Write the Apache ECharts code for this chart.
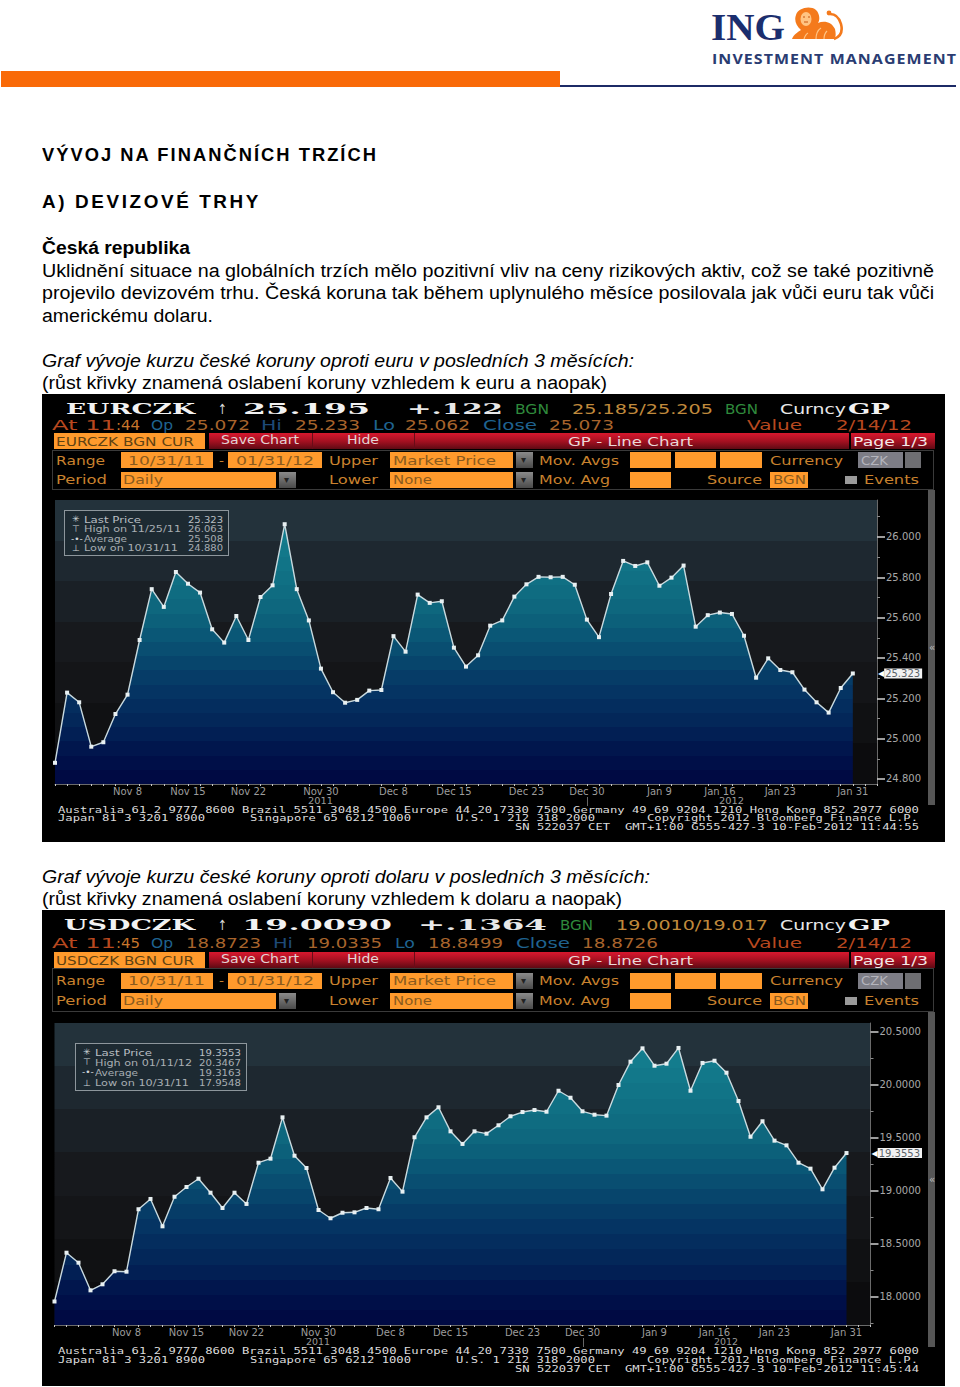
<!DOCTYPE html>
<html lang="cs">
<head>
<meta charset="utf-8">
<title>Vývoj na finančních trzích</title>
<script src="https://cdn.jsdelivr.net/npm/echarts@6/dist/echarts.min.js"></script>
<style>
html,body{margin:0;padding:0;background:#fff;width:960px;height:1387px;overflow:hidden}
#page{position:absolute;left:0;top:0;width:960px;height:1387px;overflow:hidden}
#under,#over{position:absolute;left:0;top:0;width:960px;height:1387px}
#under{z-index:0}#over{z-index:2}
#chart{position:absolute;left:0;top:0;width:960px;height:1387px;z-index:1}
.t{position:absolute;white-space:pre;transform-origin:0 50%;line-height:1}
.b{position:absolute}
</style>
</head>
<body>
<div id="page">
<div id="under"></div>
<div id="chart"></div>
<div id="over"></div>
</div>
<script>
// ---------- data ----------
var categories = ['Oct 31','Nov 1','Nov 2','Nov 3','Nov 4','Nov 7','Nov 8','Nov 9','Nov 10','Nov 11','Nov 14','Nov 15','Nov 16','Nov 17','Nov 18','Nov 21','Nov 22','Nov 23','Nov 24','Nov 25','Nov 28','Nov 29','Nov 30','Dec 1','Dec 2','Dec 5','Dec 6','Dec 7','Dec 8','Dec 9','Dec 12','Dec 13','Dec 14','Dec 15','Dec 16','Dec 19','Dec 20','Dec 21','Dec 22','Dec 23','Dec 26','Dec 27','Dec 28','Dec 29','Dec 30','Jan 2','Jan 3','Jan 4','Jan 5','Jan 6','Jan 9','Jan 10','Jan 11','Jan 12','Jan 13','Jan 16','Jan 17','Jan 18','Jan 19','Jan 20','Jan 23','Jan 24','Jan 25','Jan 26','Jan 27','Jan 30','Jan 31'];
var shownDates = ['Nov 8','Nov 15','Nov 22','Nov 30','Dec 8','Dec 15','Dec 23','Dec 30','Jan 9','Jan 16','Jan 23','Jan 31'];
var eurValues = [24.880,25.228,25.180,24.960,24.982,25.122,25.218,25.489,25.741,25.653,25.826,25.768,25.724,25.542,25.476,25.608,25.489,25.702,25.760,26.063,25.741,25.586,25.347,25.230,25.178,25.192,25.238,25.241,25.508,25.431,25.714,25.673,25.681,25.451,25.357,25.413,25.560,25.586,25.704,25.765,25.802,25.800,25.802,25.763,25.590,25.503,25.717,25.881,25.856,25.874,25.758,25.798,25.858,25.555,25.612,25.625,25.618,25.510,25.302,25.398,25.340,25.329,25.243,25.180,25.129,25.251,25.323];
var usdValues = [17.9548,18.415,18.321,18.060,18.117,18.240,18.236,18.825,18.922,18.664,18.943,19.035,19.113,18.981,18.837,18.981,18.875,19.264,19.302,19.692,19.330,19.214,18.818,18.740,18.792,18.796,18.837,18.825,19.120,18.991,19.504,19.692,19.787,19.560,19.441,19.560,19.538,19.617,19.702,19.742,19.761,19.745,19.943,19.877,19.749,19.717,19.708,19.997,20.217,20.343,20.179,20.198,20.3467,19.943,20.205,20.226,20.113,19.846,19.509,19.655,19.472,19.428,19.264,19.208,19.013,19.217,19.3553];
var eurTicks = [24.8,25.0,25.2,25.4,25.6,25.8,26.0];
var eurMinorTicks = [24.9,25.1,25.3,25.5,25.7,25.9,26.1];
var usdTicks = [18.0,18.5,19.0,19.5,20.0,20.5];
var usdMinorTicks = [17.75,18.25,18.75,19.25,19.75,20.25];
var eurLegend = [['Last Price','25.323'],['High on 11/25/11','26.063'],['Average','25.508'],['Low on 10/31/11','24.880']];
var usdLegend = [['Last Price','19.3553'],['High on 01/11/12','20.3467'],['Average','19.3163'],['Low on 10/31/11','17.9548']];

// ---------- page helpers ----------
var over = document.getElementById('over'), under = document.getElementById('under');
function box(x0,y0,x1,y1,bg,extra){
  var d=document.createElement('div');d.className='b';
  d.style.cssText='left:'+x0+'px;top:'+y0+'px;width:'+(x1-x0)+'px;height:'+(y1-y0)+'px;background:'+bg+';'+(extra||'');
  under.appendChild(d);return d;
}
function T(s,x0,x1,yc,o){
  o=o||{};
  var d=document.createElement('span');d.className='t';d.textContent=s;
  var size=o.size||13;
  d.style.fontFamily=o.font||'"DejaVu Sans",sans-serif';
  d.style.fontSize=size+'px';
  d.style.color=o.color||'#000';
  if(o.bold)d.style.fontWeight='bold';
  if(o.italic)d.style.fontStyle='italic';
  if(o.ls)d.style.letterSpacing=o.ls+'px';
  d.style.left=x0+'px';
  d.style.top=(yc-size/2)+'px';
  (o.parent||over).appendChild(d);
  if(x1!=null){var w=d.getBoundingClientRect().width;d.style.transform='scaleX('+((x1-x0)/w).toFixed(4)+')';}
  return d;
}

// ---------- letterhead ----------
box(1,71,560,87,'#f96a08');
box(560,85,956,87,'#1c2a66');
T('ING',711,785,27,{font:'"Liberation Serif",serif',bold:true,size:38,color:'#1b2e6e'});
T('INVESTMENT MANAGEMENT',712,957,58,{font:'"Open Sans",sans-serif',bold:true,size:15,ls:1,color:'#2a3c72'});
var ns='http://www.w3.org/2000/svg';
var lion=document.createElementNS(ns,'svg');
lion.setAttribute('width','54');lion.setAttribute('height','36');lion.setAttribute('viewBox','0 0 54 36');
lion.style.cssText='position:absolute;left:790px;top:6px';
lion.innerHTML='<path d="M2 33 C4 28 8 26 11 24 C6 20 4 14 6 9 C8 2 20 -1 26 4 C30 8 30 14 28 17 C34 14 42 16 45 23 C46 28 46 31 44 33 Z" fill="#f47a1c"/>'+
'<path d="M44 33 C50 31 53 26 51 18 C49 11 45 8 40 8" fill="none" stroke="#f47a1c" stroke-width="2.6"/>'+
'<circle cx="39" cy="7" r="2.4" fill="#f47a1c"/>'+
'<ellipse cx="16" cy="13" rx="5.5" ry="7" fill="#ffc483"/>'+
'<path d="M13 11h2M18 11h2M14 16h4" stroke="#c8540e" stroke-width="1"/>'+
'<path d="M26 33c0-5 2-9 5-11M34 33c0-4 1-6 3-8M14 33c1-3 2-5 4-6" stroke="#ffc483" stroke-width="1.2" fill="none"/>';
over.appendChild(lion);

// ---------- body text ----------
var bodyFont='"Liberation Sans",Arial,sans-serif';
T('VÝVOJ NA FINANČNÍCH TRZÍCH',42,378,155,{font:bodyFont,bold:true,size:18,ls:2});
T('A) DEVIZOVÉ TRHY',42,261,202,{font:bodyFont,bold:true,size:18,ls:2.5});
T('Česká republika',42,190,247.5,{font:bodyFont,bold:true,size:18});
T('Uklidnění situace na globálních trzích mělo pozitivní vliv na ceny rizikových aktiv, což se také pozitivně',42,934,270.5,{font:bodyFont,size:18});
T('projevilo devizovém trhu. Česká koruna tak během uplynulého měsíce posilovala jak vůči euru tak vůči',42,934,292.5,{font:bodyFont,size:18});
T('americkému dolaru.',42,213,315.5,{font:bodyFont,size:18});
T('Graf vývoje kurzu české koruny oproti euru v posledních 3 měsících:',42,634,360.5,{font:bodyFont,size:18,italic:true});
T('(růst křivky znamená oslabení koruny vzhledem k euru a naopak)',42,607,382.5,{font:bodyFont,size:18});
T('Graf vývoje kurzu české koruny oproti dolaru v posledních 3 měsících:',42,650,876.5,{font:bodyFont,size:18,italic:true});
T('(růst křivky znamená oslabení koruny vzhledem k dolaru a naopak)',42,622,898.5,{font:bodyFont,size:18});

// ---------- Bloomberg terminal panels ----------
var AMB='#c9822e',DIM='#a8642c',BLU='#1f6390',RED='#b8481f',GRN='#2f8a3c',BOX='#ff9a2c',BT='#8a5a1e',GR='#a5a5a5';
var red='linear-gradient(#d8182e,#a01020 55%,#5e0a14)';
function panel(c){
  box(42,c.top,945,c.bottom,'#000');
  var y=c.y,f1='"DejaVu Serif",serif';
  c.head.forEach(function(h){T(h[0],h[1],h[2],y.r1,{font:h[3]?f1:null,bold:!!h[3],size:14,color:h[4]});});
  c.info.forEach(function(h){T(h[0],h[1],h[2],y.r2,{size:14,color:h[3]});});
  // row 3
  box(54,y.b3,205,y.b3+16,BOX);
  T(c.sec,56,194,y.b3+8,{size:13,color:'#5f4212'});
  box(209,y.b3,849,y.b3+16,red);
  box(312,y.b3,313,y.b3+16,'#6a0c18');box(414,y.b3,415,y.b3+16,'#6a0c18');
  box(851,y.b3,935,y.b3+16,red);
  T('Save Chart',221,299,y.b3+7,{size:12,color:'#e4d4d4'});
  T('Hide',347,379,y.b3+7,{size:12,color:'#e4d4d4'});
  T('GP - Line Chart',568,693,y.b3+8,{size:13,color:'#ead8d8'});
  T('Page 1/3',853,928,y.b3+8,{size:13,color:'#f4e8e8'});
  // rows 4-5
  box(52,y.p0,934,y.p1,'transparent','box-sizing:border-box;border:1px solid #3a3a3a');
  var dd='linear-gradient(#8a8a8a,#4a4a4a)';
  function fld(x0,x1,yb){box(x0,yb,x1,yb+16,BOX);}
  function arrow(x,yb){box(x,yb,x+17,yb+16,dd);T('▾',x+5,null,yb+8,{size:10,color:'#222'});}
  var a=y.r4,b=y.r5,ab=a-8,bb=b-8;
  T('Range',56,105,a,{color:AMB});fld(121,213,ab);T('10/31/11',128,205,a,{color:BT});
  T('-',219,224,a,{color:AMB});fld(228,322,ab);T('01/31/12',236,314,a,{color:BT});
  T('Upper',329,378,a,{color:AMB});fld(390,513,ab);T('Market Price',393,496,a,{color:BT});arrow(516,ab);
  T('Mov. Avgs',539,619,a,{color:AMB});fld(630,671,ab);fld(675,716,ab);fld(720,762,ab);
  T('Currency',770,843,a,{color:AMB});box(858,ab,903,ab+16,'#7d7d86');T('CZK',861,888,a,{color:'#b4b4bc'});box(905,ab,921,ab+16,'#6e6e72');
  T('Period',56,107,b,{color:AMB});fld(121,276,bb);T('Daily',123,163,b,{color:BT});arrow(279,bb);
  T('Lower',329,378,b,{color:AMB});fld(390,513,bb);T('None',393,432,b,{color:BT});arrow(516,bb);
  T('Mov. Avg',539,610,b,{color:AMB});fld(630,671,bb);
  T('Source',707,762,b,{color:AMB});fld(770,808,bb);T('BGN',773,806,b,{color:BT});
  box(845,b-4,857,b+4,'#9a9a9a');T('Events',864,919,b,{color:AMB});
  // scrollbar
  box(928,y.p1,935,c.sb,'#565656');
  T('«',929,null,c.chev,{size:10,color:'#bbb'});
  // legend
  var l=c.leg;
  var lg=box(l.x0,l.y0,l.x1,l.y1,'#1d2a32','box-sizing:border-box;border:1px solid #8d969c');
  over.appendChild(lg);
  var syms=['✳','⊤','-•-','⊥'];
  c.legend.forEach(function(r,i){
    var ry=l.rows[i],col=i==0?'#b9bfc3':'#a8aeb2';
    T(syms[i],l.x0+(i==2?7:8),null,ry,{size:9,color:'#cfd5d8'});
    T(r[0],l.tx,l.tx+l.w[i],ry,{size:9.5,color:col});
    T(r[1],l.vx,l.x1-6,ry,{size:9.5,color:col});
  });
  // axis-side captions and footer
  var m='"DejaVu Sans Mono",monospace',fc='#dcdcdc';
  T(c.y2011[0],c.y2011[1],c.y2011[2],y.yr,{size:8.5,color:'#9a9a9a'});
  T(c.y2012[0],c.y2012[1],c.y2012[2],y.yr,{size:8.5,color:'#9a9a9a'});
  box(c.div,y.yr-4,c.div+1,y.yr+5,'#666');
  T('Australia 61 2 9777 8600 Brazil 5511 3048 4500 Europe 44 20 7330 7500 Germany 49 69 9204 1210 Hong Kong 852 2977 6000',58,919,y.f1,{font:m,size:9.5,color:fc});
  T('Japan 81 3 3201 8900',58,205,y.f2,{font:m,size:9.5,color:fc});
  T('Singapore 65 6212 1000',250,411,y.f2,{font:m,size:9.5,color:fc});
  T('U.S. 1 212 318 2000',456,595,y.f2,{font:m,size:9.5,color:fc});
  T('Copyright 2012 Bloomberg Finance L.P.',647,918,y.f2,{font:m,size:9.5,color:fc});
  T('SN 522037 CET',515,610,y.f3,{font:m,size:9.5,color:fc});
  T(c.stamp,625,919,y.f3,{font:m,size:9.5,color:fc});
}
panel({top:394,bottom:842,sb:805,chev:648,sec:'EURCZK BGN CUR',
  y:{r1:409,r2:425,b3:433,r4:460,r5:479.5,p0:450,p1:490,yr:801.2,f1:809.3,f2:818,f3:826.5},
  head:[['EURCZK',66,195,1,'#f2f2f2'],['↑',218,227,0,'#d8d8d8'],['25.195',243,370,1,'#f2f2f2'],['+.122',407,503,1,'#e8e8e8'],['BGN',515,549,0,GRN],['25.185/25.205',572,713,0,'#c08a3c'],['BGN',725,758,0,GRN],['Curncy',780,846,0,'#e8e8e8'],['GP',848,890,1,'#f2f2f2']],
  info:[['At 11',52,116,RED],[':44',116,140,'#c8762c'],['Op',151,173,BLU],['25.072',185,250,DIM],['Hi',261,282,'#1e4a78'],['25.233',295,360,DIM],['Lo',373,395,BLU],['25.062',405,470,DIM],['Close',483,537,BLU],['25.073',549,614,DIM],['Value',747,802,RED],['2/14/12',836,912,RED]],
  leg:{x0:64,y0:510,x1:229,y1:556,tx:84,vx:188,rows:[519.5,529,539,548],w:[57,97,43,94]},legend:eurLegend,
  y2011:['2011',308,333],y2012:['2012',719,744],div:587,stamp:'GMT+1:00 G555-427-3 10-Feb-2012 11:44:55'});
panel({top:910,bottom:1386,sb:1347,chev:1180,sec:'USDCZK BGN CUR',
  y:{r1:925,r2:943,b3:952,r4:980.5,r5:1000.7,p0:968,p1:1012,yr:1341.9,f1:1351,f2:1360,f3:1369},
  head:[['USDCZK',64,195,1,'#f2f2f2'],['↑',218,227,0,'#d8d8d8'],['19.0090',242,392,1,'#f2f2f2'],['+.1364',418,547,1,'#e8e8e8'],['BGN',560,593,0,GRN],['19.0010/19.017',616,768,0,'#c08a3c'],['Curncy',780,846,0,'#e8e8e8'],['GP',848,890,1,'#f2f2f2']],
  info:[['At 11',52,116,RED],[':45',116,140,'#c8762c'],['Op',151,173,BLU],['18.8723',186,261,DIM],['Hi',273,293,'#1e4a78'],['19.0335',307,382,DIM],['Lo',395,415,BLU],['18.8499',428,503,DIM],['Close',516,570,BLU],['18.8726',582,658,DIM],['Value',747,802,RED],['2/14/12',836,912,RED]],
  leg:{x0:75,y0:1043,x1:247,y1:1091,tx:95,vx:199,rows:[1052.3,1062.3,1072.7,1083],w:[57,97,43,94]},legend:usdLegend,
  y2011:['2011',306,330],y2012:['2012',714,738],div:583,stamp:'GMT+1:00 G555-427-3 10-Feb-2012 11:45:44'});

// ---------- stepped gradients ----------
function hex(c){return [1,3,5].map(function(i){return parseInt(c.substr(i,2),16);});}
function banded(anchors,n){
  function at(t){
    for(var i=1;i<anchors.length;i++){
      if(t<=anchors[i][0]){
        var a=anchors[i-1],b=anchors[i],k=(t-a[0])/(b[0]-a[0]),p=hex(a[1]),q=hex(b[1]);
        return 'rgb('+p.map(function(v,j){return Math.round(v+(q[j]-v)*k);}).join(',')+')';
      }
    }
    return anchors[anchors.length-1][1];
  }
  var s=[];
  for(var i=0;i<n;i++){var col=at((i+0.5)/n);s.push({offset:i/n,color:col},{offset:(i+1)/n,color:col});}
  return s;
}
function grad(top,bottom,anchors,n){return {type:'linear',global:true,x:0,y:top,x2:0,y2:bottom,colorStops:banded(anchors,n)};}
var areaAnchors=[[0,'#15869a'],[0.08,'#14808f'],[0.35,'#0f6a80'],[0.45,'#0b5c78'],[0.65,'#053765'],[0.78,'#032659'],[0.92,'#000f48'],[1,'#000740']];
var plotAnchors=[[0,'#273741'],[0.12,'#212e37'],[0.3,'#1b2329'],[0.5,'#17191d'],[0.75,'#111214'],[1,'#0a0a0c']];

// ---------- charts ----------
var slots = categories.concat([' ','  ']);
function panelSet(gi,rect,values,ticks,minor,digits,min,max){
  var grid={left:rect.left,top:rect.top,width:rect.width,height:rect.height,show:true,borderWidth:0,
    backgroundColor:grad(rect.top,rect.top+rect.height,plotAnchors,7)};
  var xAxis={gridIndex:gi,type:'category',data:slots,boundaryGap:false,
    axisLine:{lineStyle:{color:'#6a6a6a',width:1}},
    axisTick:{interval:0,length:2,lineStyle:{color:'#c8c8c8',width:1}},
    axisLabel:{color:'#9c9c9c',fontFamily:'DejaVu Sans',fontSize:10,margin:2,
      interval:function(i,v){return shownDates.indexOf(v)>=0;}},
    splitLine:{show:false}};
  var fmt=function(v){return v.toFixed(digits);};
  var last=values[values.length-1];
  var base={gridIndex:gi,type:'value',position:'right',min:min,max:max,splitLine:{show:false}};
  var yMain=Object.assign({},base,{
    axisLine:{show:true,lineStyle:{color:'#6a6a6a'}},
    axisTick:{show:true,length:8,customValues:ticks,lineStyle:{color:'#d0d0d0',width:1.5}},
    axisLabel:{customValues:ticks,formatter:fmt,color:'#a8a8a8',fontFamily:'DejaVu Sans',fontSize:10,margin:9}});
  var yMinor=Object.assign({},base,{
    axisLine:{show:false},
    axisTick:{show:true,length:3,customValues:minor,lineStyle:{color:'#8a8a8a'}},
    axisLabel:{show:false}});
  var yLast=Object.assign({},base,{
    axisLine:{show:false},axisTick:{show:false},
    axisLabel:{customValues:[last],margin:1,formatter:function(v){return '{a|◀}{b|'+fmt(v)+'}';},
      rich:{a:{color:'#fff',fontSize:8,fontFamily:'DejaVu Sans'},
        b:{backgroundColor:'#f2f2f2',color:'#5a6268',fontFamily:'DejaVu Sans',fontSize:10,height:10,lineHeight:10,padding:[0,2,0,1]}}}});
  var series={type:'line',name:gi?'USDCZK':'EURCZK',xAxisIndex:gi,yAxisIndex:gi*3,data:values,
    symbol:'rect',symbolSize:4,showAllSymbol:true,smooth:false,z:3,
    lineStyle:{color:'#c9dadf',width:1.4},
    itemStyle:{color:'#e8f0f2'},
    areaStyle:{color:grad(rect.top,rect.top+rect.height,areaAnchors,20),opacity:1,origin:'start'},
    silent:true,animation:false};
  return {grid:grid,xAxis:xAxis,y:[yMain,yMinor,yLast],series:series};
}
var eur=panelSet(0,{left:55,top:500,width:822,height:284},eurValues,eurTicks,eurMinorTicks,3,24.775,26.183);
var usd=panelSet(1,{left:54.5,top:1023,width:816,height:302},usdValues,usdTicks,usdMinorTicks,4,17.733,20.582);
var chart=echarts.init(document.getElementById('chart'),null,{renderer:'svg',width:960,height:1387});
chart.setOption({
  animation:false,backgroundColor:'transparent',
  tooltip:{show:false},
  grid:[eur.grid,usd.grid],
  xAxis:[eur.xAxis,usd.xAxis],
  yAxis:eur.y.concat(usd.y),
  series:[eur.series,usd.series]
});
</script>
</body>
</html>
